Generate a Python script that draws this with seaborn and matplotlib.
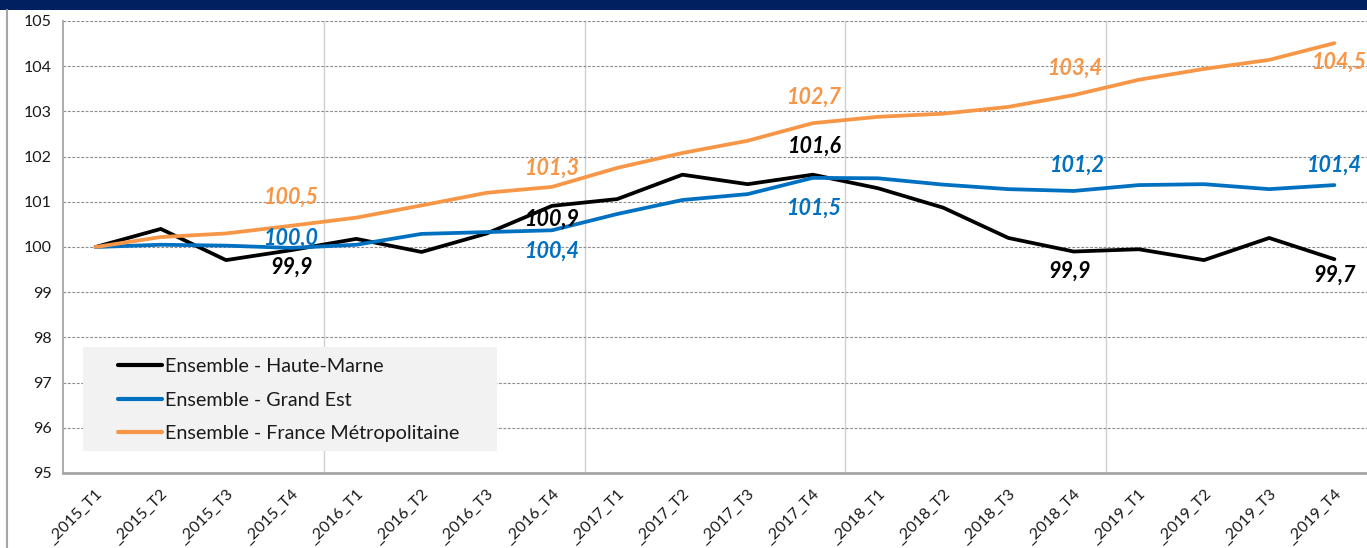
import matplotlib
matplotlib.use("Agg")
import matplotlib.pyplot as plt
import matplotlib.patches as mpatches
from matplotlib.lines import Line2D
import seaborn as sns
import pandas as pd
import numpy as np

# ---------------- data ----------------
quarters = ["_2015_T1", "_2015_T2", "_2015_T3", "_2015_T4",
            "_2016_T1", "_2016_T2", "_2016_T3", "_2016_T4",
            "_2017_T1", "_2017_T2", "_2017_T3", "_2017_T4",
            "_2018_T1", "_2018_T2", "_2018_T3", "_2018_T4",
            "_2019_T1", "_2019_T2", "_2019_T3", "_2019_T4"]
series_names = ["Ensemble - Haute-Marne", "Ensemble - Grand Est",
                "Ensemble - France Métropolitaine"]
haute_marne = [100.0, 100.40, 99.71, 99.93, 100.18, 99.89, 100.30, 100.91,
               101.06, 101.60, 101.39, 101.60, 101.30, 100.87, 100.20, 99.90,
               99.95, 99.71, 100.20, 99.73]
grand_est = [100.0, 100.05, 100.03, 99.98, 100.05, 100.29, 100.33, 100.37,
             100.73, 101.04, 101.17, 101.53, 101.52, 101.38, 101.28, 101.24,
             101.37, 101.39, 101.28, 101.37]
france_metro = [100.0, 100.22, 100.30, 100.47, 100.65, 100.92, 101.20, 101.33,
                101.75, 102.08, 102.35, 102.74, 102.88, 102.95, 103.10, 103.36,
                103.70, 103.94, 104.14, 104.51]
label_idx = [3, 7, 11, 15, 19]
y_ticks = [95, 96, 97, 98, 99, 100, 101, 102, 103, 104, 105]

colors = ["#000000", "#0070C0", "#F79646"]
# label offsets in pixels (dx, dy up) per series, per labelled point
label_offsets = {
    0: [(0, -17), (0, -13), (2, 28), (-4, -20), (0, -16)],
    1: [(0, 10), (0, -21), (2, -30), (4, 26), (0, 20)],
    2: [(0, 29), (0, 19), (2, 26), (2, 27), (5, -19)],
}

df = pd.DataFrame({
    "x": list(range(len(quarters))) * 3,
    "value": haute_marne + grand_est + france_metro,
    "serie": sum([[n] * len(quarters) for n in series_names], []),
})

# ---------------- style ----------------
sns.set_style("white")
plt.rcParams["font.family"] = ["Lato", "DejaVu Sans"]

fig = plt.figure(figsize=(13.67, 5.48), dpi=100)
ax = fig.add_axes([63 / 1367, 1 - 473 / 548, 1304 / 1367, 452 / 548])

# top banner and left border line
fig.patches.append(mpatches.Rectangle((0, 1 - 10 / 548), 1, 10 / 548,
                                      transform=fig.transFigure,
                                      facecolor="#002060", edgecolor="none"))
fig.lines.append(Line2D([7 / 1367, 7 / 1367], [0, 1 - 10 / 548],
                        transform=fig.transFigure, color="#a6a6a6", lw=1.5))

sns.lineplot(data=df, x="x", y="value", hue="serie", palette=colors,
             hue_order=series_names, linewidth=2.7, ax=ax, legend=False,
             zorder=3)

ax.set_xlim(-0.5, len(quarters) - 0.5)
ax.set_ylim(95, 105)
ax.set_yticks(y_ticks)
ax.set_yticklabels([str(t) for t in y_ticks])
ax.set_xticks(range(len(quarters)))
ax.set_xticklabels(quarters, rotation=45, ha="right", rotation_mode="anchor")
ax.set_xticks([3.5, 7.5, 11.5, 15.5], minor=True)
ax.set_xlabel("")
ax.set_ylabel("")

ax.tick_params(axis="x", which="major", length=0, pad=10, labelsize=11.5,
               labelcolor="#1a1a1a")
ax.tick_params(axis="x", which="minor", length=5, color="#a6a6a6", width=1)
ax.tick_params(axis="y", length=5, color="#a6a6a6", width=1, pad=3,
               labelsize=11.5, labelcolor="#1a1a1a")

ax.set_axisbelow(True)
ax.yaxis.grid(True, color="#8c8c8c", linestyle=(0, (2.5, 1.5)), linewidth=0.8)
ax.xaxis.grid(True, which="minor", color="#d0d0d0", linestyle="-", linewidth=1)
ax.xaxis.grid(False, which="major")

for s in ["top", "right"]:
    ax.spines[s].set_visible(False)
ax.spines["left"].set_color("#a6a6a6")
ax.spines["left"].set_linewidth(1.3)
ax.spines["bottom"].set_color("#a6a6a6")
ax.spines["bottom"].set_linewidth(2)

# data labels
all_series = [haute_marne, grand_est, france_metro]
for si, vals in enumerate(all_series):
    for k, i in enumerate(label_idx):
        dx, dy = label_offsets[si][k]
        txt = f"{vals[i]:.1f}".replace(".", ",")
        ax.annotate(txt, (i, vals[i]), xytext=(dx, dy),
                    textcoords="offset pixels", ha="center", va="center",
                    fontsize=15.5, fontweight="bold", fontstyle="italic",
                    color=colors[si], zorder=4)

# legend with grey background
ax.add_patch(mpatches.Rectangle((20 / 1304, 22 / 452), 414 / 1304, 104 / 452,
                                transform=ax.transAxes, facecolor="#f2f2f2",
                                edgecolor="none", zorder=1.5))
handles = [Line2D([0], [0], color=c, lw=3) for c in colors]
ax.legend(handles, series_names, loc="upper left",
          bbox_to_anchor=(55 / 1304, 1 - (358 - 21) / 452), frameon=False,
          fontsize=14.2, handlelength=2.23, handletextpad=0.15,
          labelspacing=0.84, borderpad=0, borderaxespad=0,
          labelcolor="#1a1a1a")

fig.savefig("out.png", dpi=100)
